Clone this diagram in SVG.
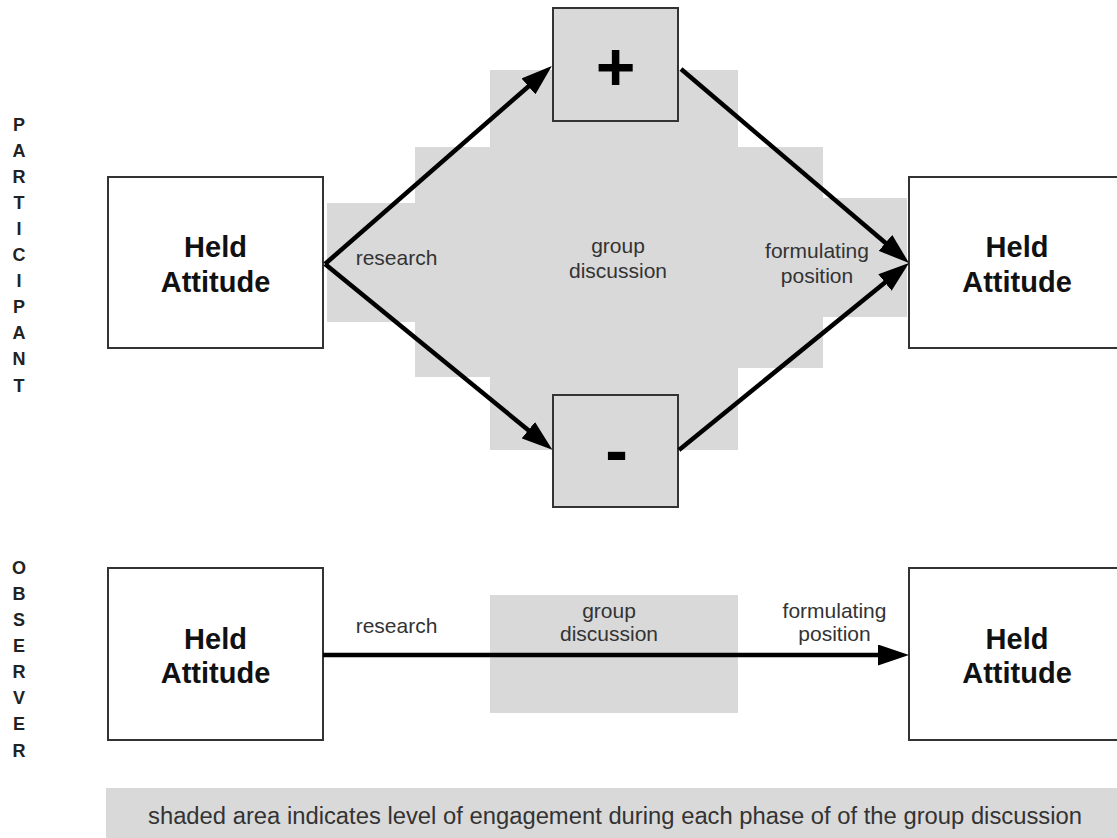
<svg xmlns="http://www.w3.org/2000/svg" width="1117" height="838" viewBox="0 0 1117 838">
<defs>
<style>
.shade{fill:#d9d9d9;stroke:none}
.box{fill:#ffffff;stroke:#333333;stroke-width:2}
.gbox{fill:#d9d9d9;stroke:#333333;stroke-width:2}
.held{font-family:"Liberation Sans",Arial,sans-serif;font-weight:bold;font-size:29px;fill:#111111;text-anchor:middle}
.sym{font-family:"Liberation Sans",Arial,sans-serif;font-weight:bold;font-size:68px;fill:#000000;text-anchor:middle}
.lbl{font-family:"Liberation Sans",Arial,sans-serif;font-size:21px;fill:#333333;text-anchor:middle}
.side{font-family:"Liberation Sans",Arial,sans-serif;font-weight:bold;font-size:18px;fill:#222222;text-anchor:middle}
.foot{font-family:"Liberation Sans",Arial,sans-serif;font-size:23px;fill:#333333}
.conn{stroke:#000000;stroke-width:4.5;fill:none}
</style>
<marker id="ah" markerUnits="userSpaceOnUse" markerWidth="31" markerHeight="21" refX="6" refY="10.5" orient="auto">
<path d="M0,0 L31,10.5 L0,21 z" fill="#000000"/>
</marker>
</defs>
<rect width="1117" height="838" fill="#ffffff"/>

<g id="engagement-shading">
<polygon class="shade" points="490,70 738,70 738,147 823,147 823,198 907,198 907,317 823,317 823,368 738,368 738,450 490,450 490,377 415,377 415,322 327,322 327,203 415,203 415,147 490,147"/>
<rect class="shade" x="490" y="595" width="248" height="118"/>
</g>

<g id="side-labels">
<text class="side" x="19" y="131">P</text>
<text class="side" x="19" y="157">A</text>
<text class="side" x="19" y="183">R</text>
<text class="side" x="19" y="209">T</text>
<text class="side" x="19" y="235">I</text>
<text class="side" x="19" y="261">C</text>
<text class="side" x="19" y="287">I</text>
<text class="side" x="19" y="313">P</text>
<text class="side" x="19" y="339">A</text>
<text class="side" x="19" y="365">N</text>
<text class="side" x="19" y="392">T</text>
<text class="side" x="19" y="574">O</text>
<text class="side" x="19" y="600">B</text>
<text class="side" x="19" y="626">S</text>
<text class="side" x="19" y="652">E</text>
<text class="side" x="19" y="678">R</text>
<text class="side" x="19" y="704">V</text>
<text class="side" x="19" y="730">E</text>
<text class="side" x="19" y="757">R</text>
</g>

<g id="p-held-left">
<rect class="box" x="108" y="177" width="215" height="171"/>
<text class="held" x="215.5" y="257">Held</text>
<text class="held" x="215.5" y="292">Attitude</text>
</g>

<g id="p-plus">
<rect class="gbox" x="553" y="8" width="125" height="113"/>
<text class="sym" x="615.5" y="90">+</text>
</g>

<g id="p-minus">
<rect class="gbox" x="553" y="395" width="125" height="112"/>
<text class="sym" x="616.5" y="474">-</text>
</g>

<g id="p-held-right">
<rect class="box" x="909" y="177" width="216" height="171"/>
<text class="held" x="1017" y="257">Held</text>
<text class="held" x="1017" y="292">Attitude</text>
</g>

<g id="o-held-left">
<rect class="box" x="108" y="568" width="215" height="172"/>
<text class="held" x="215.5" y="649">Held</text>
<text class="held" x="215.5" y="683">Attitude</text>
</g>

<g id="o-held-right">
<rect class="box" x="909" y="568" width="216" height="172"/>
<text class="held" x="1017" y="649">Held</text>
<text class="held" x="1017" y="683">Attitude</text>
</g>

<g id="connectors">
<line class="conn" x1="325" y1="264" x2="533" y2="82.5" marker-end="url(#ah)"/>
<line class="conn" x1="325" y1="264" x2="533" y2="434" marker-end="url(#ah)"/>
<line class="conn" x1="681" y1="69" x2="890" y2="246.8" marker-end="url(#ah)"/>
<line class="conn" x1="679" y1="450" x2="889.6" y2="278.7" marker-end="url(#ah)"/>
<line class="conn" x1="323" y1="655" x2="884" y2="655" marker-end="url(#ah)"/>
</g>

<g id="phase-labels">
<text class="lbl" x="396.5" y="265">research</text>
<text class="lbl" x="618" y="253">group</text>
<text class="lbl" x="618" y="278">discussion</text>
<text class="lbl" x="817" y="258">formulating</text>
<text class="lbl" x="817" y="283">position</text>
<text class="lbl" x="396.5" y="633">research</text>
<text class="lbl" x="609" y="618">group</text>
<text class="lbl" x="609" y="641">discussion</text>
<text class="lbl" x="834.5" y="618">formulating</text>
<text class="lbl" x="834.5" y="641">position</text>
</g>

<g id="legend">
<rect class="shade" x="106" y="788" width="1011" height="50"/>
<text class="foot" x="148" y="824" textLength="934" lengthAdjust="spacingAndGlyphs">shaded area indicates level of engagement during each phase of of the group discussion</text>
</g>
</svg>
